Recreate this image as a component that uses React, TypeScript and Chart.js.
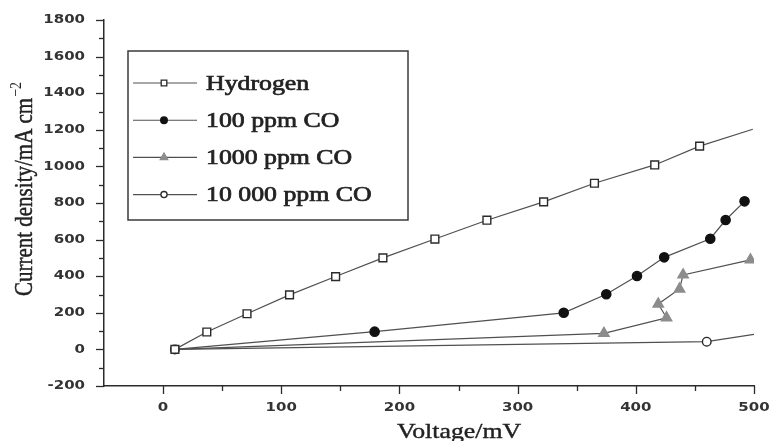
import React, { useEffect, useRef } from 'react';
import { Chart, registerables } from 'chart.js';

Chart.register(...registerables);

// Polarisation curves: cell voltage (mV) against current density (mA cm^-2)
const hydrogenV = [10, 37, 71, 107, 146, 186, 230, 274, 322, 365, 416, 454, 499];
const hydrogenJ = [0, 95, 195, 298, 398, 500, 603, 706, 806, 908, 1008, 1111, 1203];

const co100V = [10, 179, 339, 375, 401, 424, 463, 476, 492];
const co100J = [0, 97, 200, 301, 401, 503, 605, 707, 809];

const co1000V = [10, 373, 426, 419, 437, 440, 497];
const co1000J = [0, 88, 173, 248, 330, 407, 489];

const co10000V = [10, 460, 500];
const co10000J = [0, 42, 82];

const seriesNames = ['Hydrogen', '100 ppm CO', '1000 ppm CO', '10 000 ppm CO'];

const xTickValues = [0, 100, 200, 300, 400, 500];
const yTickValues = [-200, 0, 200, 400, 600, 800, 1000, 1200, 1400, 1600, 1800];

const xTitle = 'Voltage/mV';
const yTitle = 'Current density/mA cm';
const yTitleExp = '\u22122';

const X_MIN = -50;
const X_MAX = 500;
const Y_MIN = -200;
const Y_MAX = 1800;

// appearance
const SERIF = '"Liberation Serif", "Times New Roman", serif';
const SANS = '"DejaVu Sans", sans-serif';
const STRETCH = 1.2;
const AXIS_COLOR = '#2b2b2b';
const LINE_COLOR = '#505050';
const TEXT_COLOR = '#222222';

type Shape = 'rect' | 'circle' | 'triangle';
interface SeriesStyle {
  shape: Shape;
  r: number;
  fill: string;
  stroke: string;
  bare: 'first' | 'last';
}

const seriesStyles: SeriesStyle[] = [
  { shape: 'rect', r: 5.5, fill: '#ffffff', stroke: '#2a2a2a', bare: 'last' },
  { shape: 'circle', r: 4.6, fill: '#111111', stroke: '#111111', bare: 'first' },
  { shape: 'triangle', r: 6, fill: '#8c8c8c', stroke: '#8c8c8c', bare: 'first' },
  { shape: 'circle', r: 4.3, fill: '#ffffff', stroke: '#2a2a2a', bare: 'last' },
];

const seriesData: [number[], number[]][] = [
  [hydrogenV, hydrogenJ],
  [co100V, co100J],
  [co1000V, co1000J],
  [co10000V, co10000J],
];

function drawMarker(ctx: CanvasRenderingContext2D, st: SeriesStyle, x: number, y: number, r: number) {
  ctx.beginPath();
  if (st.shape === 'rect') {
    const s = r * Math.SQRT1_2;
    ctx.rect(x - s, y - s, 2 * s, 2 * s);
  } else if (st.shape === 'circle') {
    ctx.arc(x, y, r, 0, Math.PI * 2);
  } else {
    for (let k = 0; k < 3; k++) {
      const a = -Math.PI / 2 + (k * 2 * Math.PI) / 3;
      const px = x + Math.cos(a) * r;
      const py = y + Math.sin(a) * r;
      if (k === 0) ctx.moveTo(px, py);
      else ctx.lineTo(px, py);
    }
    ctx.closePath();
  }
  ctx.fillStyle = st.fill;
  ctx.fill();
  ctx.lineWidth = 1.3;
  ctx.strokeStyle = st.stroke;
  ctx.stroke();
}

// text drawn slightly widened, with an optional thin outline to give it more weight
function wideText(
  ctx: CanvasRenderingContext2D,
  text: string,
  x: number,
  y: number,
  align: CanvasTextAlign,
  baseline: CanvasTextBaseline,
  weight = 0
) {
  ctx.save();
  ctx.translate(x, y);
  ctx.scale(STRETCH, 1);
  ctx.textAlign = align;
  ctx.textBaseline = baseline;
  ctx.fillText(text, 0, 0);
  if (weight > 0) {
    ctx.lineWidth = weight;
    ctx.strokeStyle = ctx.fillStyle as string;
    ctx.strokeText(text, 0, 0);
  }
  ctx.restore();
}

const axisDecor = {
  id: 'axisDecor',
  afterDraw(chart: any) {
    const { ctx, chartArea } = chart;
    const xs = chart.scales.x;
    const ys = chart.scales.y;
    ctx.save();

    // tick marks
    ctx.strokeStyle = AXIS_COLOR;
    ctx.lineWidth = 1.3;
    for (let v = Y_MIN; v <= Y_MAX; v += 100) {
      const py = Math.round(ys.getPixelForValue(v)) + 0.5;
      const len = v % 200 === 0 ? 8 : 5;
      ctx.beginPath();
      ctx.moveTo(chartArea.left, py);
      ctx.lineTo(chartArea.left - len, py);
      ctx.stroke();
    }
    for (let v = 0; v <= X_MAX; v += 50) {
      const px = Math.round(xs.getPixelForValue(v)) + 0.5;
      const len = v % 100 === 0 ? 8 : 5;
      ctx.beginPath();
      ctx.moveTo(px, chartArea.bottom);
      ctx.lineTo(px, chartArea.bottom + len);
      ctx.stroke();
    }

    // tick labels
    ctx.fillStyle = '#333333';
    ctx.font = `bold 12.5px ${SANS}`;
    for (const v of yTickValues) {
      wideText(ctx, String(v), chartArea.left - 19, ys.getPixelForValue(v), 'right', 'middle');
    }
    for (const v of xTickValues) {
      wideText(ctx, String(v), xs.getPixelForValue(v), chartArea.bottom + 22, 'center', 'middle');
    }

    // axis titles
    ctx.fillStyle = TEXT_COLOR;
    ctx.font = `21.5px ${SERIF}`;
    wideText(ctx, xTitle, 459, 438, 'center', 'alphabetic', 0.4);

    ctx.save();
    ctx.translate(32, 189);
    ctx.scale(STRETCH, 1);
    ctx.rotate(-Math.PI / 2);
    ctx.font = `21px ${SERIF}`;
    const w1 = ctx.measureText(yTitle).width;
    ctx.font = `14px ${SERIF}`;
    const w2 = ctx.measureText(yTitleExp).width;
    const start = -(w1 + w2 + 1) / 2;
    ctx.textAlign = 'left';
    ctx.textBaseline = 'alphabetic';
    ctx.strokeStyle = TEXT_COLOR;
    ctx.lineWidth = 0.4;
    ctx.font = `21px ${SERIF}`;
    ctx.fillText(yTitle, start, 0);
    ctx.strokeText(yTitle, start, 0);
    ctx.font = `14px ${SERIF}`;
    ctx.fillText(yTitleExp, start + w1 + 1, -9);
    ctx.restore();

    // legend box
    const box = { l: 128, t: 51, r: 408, b: 220 };
    ctx.fillStyle = '#ffffff';
    ctx.fillRect(box.l, box.t, box.r - box.l, box.b - box.t);
    ctx.strokeStyle = '#3a3a3a';
    ctx.lineWidth = 1.5;
    ctx.strokeRect(box.l, box.t, box.r - box.l, box.b - box.t);

    seriesNames.forEach((name, i) => {
      const ry = 83 + i * 37.2;
      ctx.strokeStyle = LINE_COLOR;
      ctx.lineWidth = 1.1;
      ctx.beginPath();
      ctx.moveTo(133, ry);
      ctx.lineTo(197, ry);
      ctx.stroke();
      const st = seriesStyles[i];
      drawMarker(ctx, st, 164, ry, st.r * 0.72);
      ctx.fillStyle = TEXT_COLOR;
      ctx.font = `21.5px ${SERIF}`;
      wideText(ctx, name, 206, ry + 1, 'left', 'middle', 0.7);
    });

    ctx.restore();
  },
};

export default function App() {
  const canvasRef = useRef<HTMLCanvasElement | null>(null);

  useEffect(() => {
    const canvas = canvasRef.current;
    if (!canvas) return;

    const datasets = seriesData.map(([xv, yv], i) => {
      const st = seriesStyles[i];
      const n = xv.length;
      return {
        label: seriesNames[i],
        data: xv.map((v, k) => ({ x: v, y: yv[k] })),
        showLine: true,
        borderColor: LINE_COLOR,
        borderWidth: 1.2,
        tension: 0,
        pointStyle: st.shape,
        pointBackgroundColor: st.fill,
        pointBorderColor: st.stroke,
        pointBorderWidth: 1.4,
        pointRadius: (c: any) => {
          const k = c.dataIndex;
          if ((st.bare === 'first' && k === 0) || (st.bare === 'last' && k === n - 1)) return 0;
          return st.r;
        },
      };
    });

    const chart = new Chart(canvas, {
      type: 'scatter',
      data: { datasets },
      options: {
        animation: false,
        responsive: false,
        devicePixelRatio: 1,
        layout: { padding: { left: 0, top: 20, right: 17, bottom: 0 } },
        plugins: { legend: { display: false }, tooltip: { enabled: false } },
        scales: {
          x: {
            type: 'linear',
            min: X_MIN,
            max: X_MAX,
            grid: { display: false, drawTicks: false },
            border: { display: true, color: AXIS_COLOR, width: 1.5 },
            ticks: { display: false },
            afterFit: (s: any) => {
              s.height = 55;
            },
          },
          y: {
            type: 'linear',
            min: Y_MIN,
            max: Y_MAX,
            grid: { display: false, drawTicks: false },
            border: { display: true, color: AXIS_COLOR, width: 1.5 },
            ticks: { display: false },
            afterFit: (s: any) => {
              s.width = 104;
            },
          },
        },
      },
      plugins: [axisDecor],
    } as any);

    return () => chart.destroy();
  }, []);

  return (
    <div style={{ position: 'fixed', left: 0, top: 0, width: 771, height: 441, background: '#ffffff' }}>
      <canvas ref={canvasRef} width={771} height={441} style={{ display: 'block' }} />
    </div>
  );
}
